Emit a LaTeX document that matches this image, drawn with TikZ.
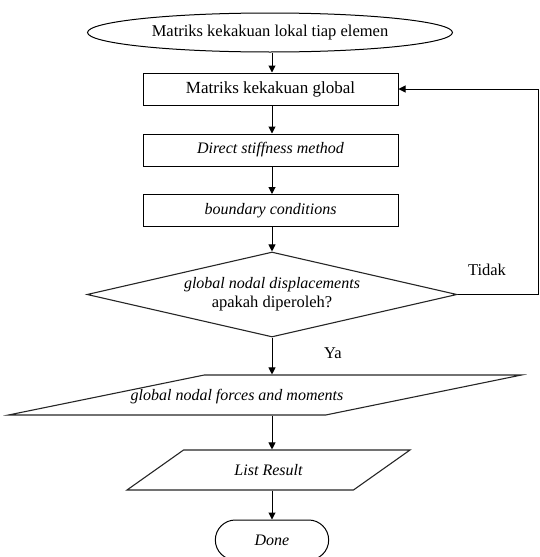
\documentclass[tikz,border=0pt]{standalone}
\usepackage{fontspec}
\setmainfont{Liberation Serif}
\usepackage{tikz}
\usetikzlibrary{arrows.meta,positioning,shapes.geometric,shapes.misc,calc}

\begin{document}
\begin{tikzpicture}[
  x=1pt, y=-1pt,
  font=\fontsize{16.5}{19}\selectfont,
  blk/.style={draw,line width=1pt,minimum width=255pt,minimum height=32pt,inner sep=2pt,align=center},
  iobox/.style={draw=black!85,line width=1.1pt,trapezium,trapezium stretches=true,inner sep=1pt},
  it/.style={font=\fontsize{16}{18}\selectfont\itshape},
  >={Triangle[length=7pt,width=7pt]}, line width=1pt]
  \useasboundingbox (0,0) rectangle (539,557);
  \node[draw,ellipse,line width=1pt,minimum width=365pt,minimum height=39pt,inner sep=0pt] (lokal) at (270,32.5)
    {Matriks kekakuan lokal tiap elemen};
  \node[blk,font=\fontsize{17}{19}\selectfont] (glob) at (270.5,89) {Matriks kekakuan global};
  \node[blk,it] (dsm) at (270.5,150) {Direct stiffness method};
  \node[blk,it] (bc) at (270.5,210.5) {boundary conditions};
  \node[draw=black!85,diamond,aspect=4.35,line width=1.1pt,minimum width=370pt,minimum height=85pt,inner sep=0pt,align=center] (cek) at (272,294.5)
    {{\fontsize{16}{18}\selectfont\itshape global nodal displacements}\\apakah diperoleh?};
  \node[iobox,it,minimum width=514pt,minimum height=40pt,trapezium left angle=16.9,trapezium right angle=163.1] (gaya) at (265,395) {\phantom{List}};
  \node[it] (gayatxt) at (237,397) {global nodal forces and moments};
  \node[iobox,it,minimum width=283pt,minimum height=40pt,trapezium left angle=29.7,trapezium right angle=150.3] (hasil) at (268.5,470)
    {List Result};
  \node[draw,rounded rectangle,line width=1pt,minimum width=120pt,minimum height=40pt,it] (done) at (272,540) {Done};
  \node (tidak) at (487,270) {Tidak};
  \node (ya) at (333,353) {Ya};
  % aliran utama
  \draw[->] (lokal.south -| cek.north) -- (glob.north -| cek.north);
  \draw[->] (glob.south -| cek.north) -- (dsm.north -| cek.north);
  \draw[->] (dsm.south -| cek.north) -- (bc.north -| cek.north);
  \draw[->] (bc.south -| cek.north) -- (cek.north);
  \draw[->] (cek.south) -- (cek.south |- gaya.north);
  \draw[->] (cek.south |- gaya.south) -- (cek.south |- hasil.north);
  \draw[->] (cek.south |- hasil.south) -- (done.north);
  % kembali jika tidak
  \draw[->] (cek.east) -- ++(81,0) |- (glob.east);
\end{tikzpicture}
\end{document}
